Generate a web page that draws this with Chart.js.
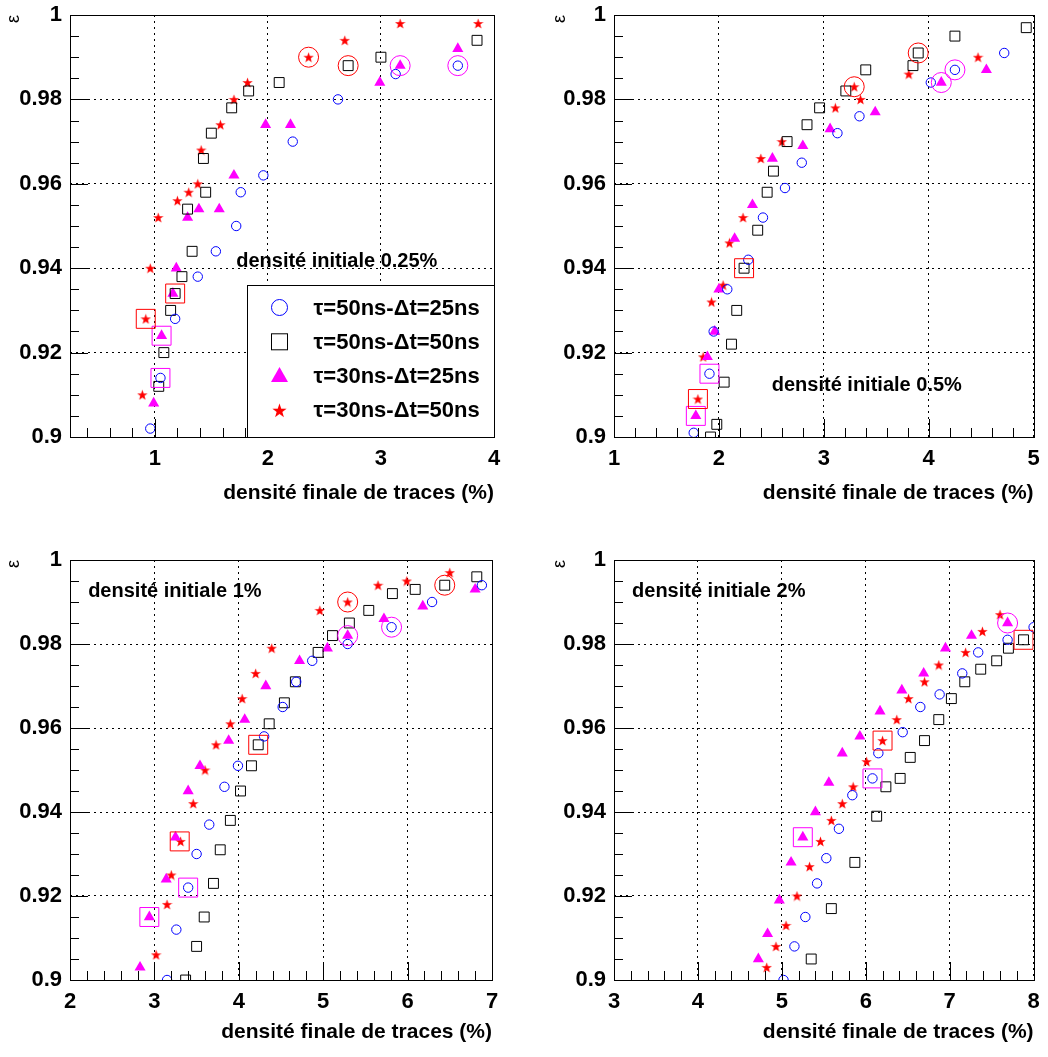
<!DOCTYPE html>
<html>
<head>
<meta charset="utf-8">
<script src="https://cdn.jsdelivr.net/npm/chart.js@4.4.0/dist/chart.umd.min.js"></script>
<style>
  html, body { margin: 0; padding: 0; background: #fff; }
  #page { position: relative; width: 1048px; height: 1057px; overflow: hidden; }
  .panel { position: absolute; }
</style>
</head>
<body>
<div id="page">
  <div class="panel" style="left:0;top:0"><canvas id="c1" width="524" height="528"></canvas></div>
  <div class="panel" style="left:524px;top:0"><canvas id="c2" width="524" height="528"></canvas></div>
  <div class="panel" style="left:0;top:528px"><canvas id="c3" width="524" height="529"></canvas></div>
  <div class="panel" style="left:524px;top:528px"><canvas id="c4" width="524" height="529"></canvas></div>
</div>
<script>
// Series labels (legend of the first panel)
const seriesLabels = ['τ=50ns-Δt=25ns', 'τ=50ns-Δt=50ns', 'τ=30ns-Δt=25ns', 'τ=30ns-Δt=50ns'];

// Shared axis values
const yTicks = [0.9, 0.92, 0.94, 0.96, 0.98, 1];

// Panel 1 : densité initiale 0.25%
const p1XTicks = [1, 2, 3, 4];
const p1Circles = [[0.96,0.902],[1.05,0.914],[1.18,0.928],[1.38,0.938],[1.54,0.944],[1.72,0.950],[1.76,0.958],[1.96,0.962],[2.22,0.970],[2.62,0.980],[3.13,0.986],[3.68,0.988]];
const p1Squares = [[1.035,0.912],[1.08,0.920],[1.14,0.930],[1.18,0.934],[1.24,0.938],[1.33,0.944],[1.29,0.954],[1.45,0.958],[1.43,0.966],[1.50,0.972],[1.68,0.978],[1.83,0.982],[2.10,0.984],[2.71,0.988],[3.00,0.990],[3.85,0.994]];
const p1Triangles = [[0.99,0.908],[1.06,0.924],[1.16,0.934],[1.19,0.940],[1.29,0.952],[1.39,0.954],[1.57,0.954],[1.70,0.962],[1.98,0.974],[2.20,0.974],[2.99,0.984],[3.17,0.988],[3.68,0.992]];
const p1Stars = [[0.89,0.910],[0.92,0.928],[0.96,0.940],[1.03,0.952],[1.20,0.956],[1.30,0.958],[1.38,0.960],[1.41,0.968],[1.58,0.974],[1.70,0.980],[1.82,0.984],[2.36,0.990],[2.68,0.994],[3.17,0.998],[3.86,0.998]];
const p1RedRings = [[2.36,0.990],[2.71,0.988]];
const p1PinkRings = [[3.17,0.988],[3.68,0.988]];
const p1RedBoxes = [[0.92,0.928],[1.18,0.934]];
const p1PinkBoxes = [[1.06,0.924],[1.05,0.914]];

// Panel 2 : densité initiale 0.5%
const p2XTicks = [1, 2, 3, 4, 5];
const p2Circles = [[1.76,0.901],[1.91,0.915],[1.95,0.925],[2.08,0.935],[2.28,0.942],[2.42,0.952],[2.63,0.959],[2.79,0.965],[3.13,0.972],[3.34,0.976],[4.02,0.984],[4.25,0.987],[4.72,0.991]];
const p2Squares = [[1.92,0.900],[1.98,0.903],[2.05,0.913],[2.12,0.922],[2.17,0.930],[2.24,0.940],[2.37,0.949],[2.46,0.958],[2.52,0.963],[2.65,0.970],[2.84,0.974],[2.96,0.978],[3.21,0.982],[3.40,0.987],[3.85,0.988],[3.90,0.991],[4.25,0.995],[4.93,0.997]];
const p2Triangles = [[1.78,0.905],[1.89,0.919],[1.96,0.925],[2.00,0.935],[2.15,0.947],[2.32,0.955],[2.51,0.966],[2.80,0.969],[3.06,0.973],[3.49,0.977],[4.12,0.984],[4.55,0.987]];
const p2Stars = [[1.80,0.909],[1.85,0.919],[1.93,0.932],[2.04,0.936],[2.10,0.946],[2.23,0.952],[2.40,0.966],[2.60,0.970],[3.11,0.978],[3.35,0.980],[3.29,0.983],[3.81,0.986],[4.47,0.990]];
const p2RedRings = [[3.29,0.983],[3.90,0.991]];
const p2PinkRings = [[4.12,0.984],[4.25,0.987]];
const p2RedBoxes = [[2.24,0.940],[1.80,0.909]];
const p2PinkBoxes = [[1.91,0.915],[1.78,0.905]];

// Panel 3 : densité initiale 1%
const p3XTicks = [2, 3, 4, 5, 6, 7];
const p3Circles = [[3.15,0.900],[3.26,0.912],[3.40,0.922],[3.50,0.930],[3.65,0.937],[3.83,0.946],[3.99,0.951],[4.30,0.958],[4.52,0.965],[4.68,0.971],[4.87,0.976],[5.29,0.980],[5.81,0.984],[6.29,0.990],[6.88,0.994]];
const p3Squares = [[3.37,0.900],[3.50,0.908],[3.59,0.915],[3.70,0.923],[3.78,0.931],[3.90,0.938],[4.02,0.945],[4.15,0.951],[4.23,0.956],[4.36,0.961],[4.54,0.966],[4.67,0.971],[4.94,0.978],[5.11,0.982],[5.31,0.985],[5.54,0.988],[5.82,0.992],[6.09,0.993],[6.44,0.994],[6.82,0.996]];
const p3Triangles = [[2.83,0.903],[2.94,0.915],[3.14,0.924],[3.25,0.934],[3.40,0.945],[3.54,0.951],[3.88,0.957],[4.07,0.962],[4.32,0.970],[4.72,0.976],[5.05,0.979],[5.29,0.982],[5.72,0.986],[6.18,0.989],[6.80,0.993]];
const p3Stars = [[3.02,0.906],[3.15,0.918],[3.20,0.925],[3.31,0.933],[3.46,0.942],[3.60,0.950],[3.73,0.956],[3.90,0.961],[4.04,0.967],[4.20,0.973],[4.39,0.979],[4.96,0.988],[5.29,0.990],[5.65,0.994],[5.99,0.995],[6.50,0.997]];
const p3RedRings = [[5.29,0.990],[6.44,0.994]];
const p3PinkRings = [[5.29,0.982],[5.81,0.984]];
const p3RedBoxes = [[4.23,0.956],[3.30,0.933]];
const p3PinkBoxes = [[3.40,0.922],[2.94,0.915]];

// Panel 4 : densité initiale 2%
const p4XTicks = [3, 4, 5, 6, 7, 8];
const p4Circles = [[5.02,0.900],[5.15,0.908],[5.28,0.915],[5.42,0.923],[5.53,0.929],[5.68,0.936],[5.84,0.944],[6.08,0.948],[6.15,0.954],[6.44,0.959],[6.65,0.965],[6.88,0.968],[7.15,0.973],[7.34,0.978],[7.69,0.981],[8.00,0.984]];
const p4Squares = [[5.35,0.905],[5.59,0.917],[5.87,0.928],[6.13,0.939],[6.24,0.946],[6.41,0.948],[6.53,0.953],[6.70,0.957],[6.87,0.962],[7.02,0.967],[7.18,0.971],[7.37,0.974],[7.56,0.976],[7.70,0.979],[7.88,0.981]];
const p4Triangles = [[4.72,0.905],[4.83,0.911],[4.97,0.919],[5.11,0.928],[5.25,0.934],[5.40,0.940],[5.56,0.947],[5.72,0.954],[5.93,0.958],[6.17,0.964],[6.43,0.969],[6.69,0.973],[6.95,0.979],[7.26,0.982],[7.69,0.985]];
const p4Stars = [[4.82,0.903],[4.93,0.908],[5.05,0.913],[5.18,0.920],[5.33,0.927],[5.46,0.933],[5.59,0.938],[5.72,0.942],[5.85,0.946],[6.01,0.952],[6.20,0.957],[6.37,0.962],[6.51,0.967],[6.70,0.971],[6.87,0.975],[7.19,0.978],[7.39,0.983],[7.60,0.987]];
const p4RedRings = [];
const p4PinkRings = [[7.69,0.985]];
const p4RedBoxes = [[6.20,0.957],[7.88,0.981]];
const p4PinkBoxes = [[6.08,0.948],[5.25,0.934]];

const BLUE = '#0000ff', BLACK = '#000000', PINK = '#ff00ff', RED = '#ff0000';
const FONT = 'Liberation Sans, Arial, Helvetica, sans-serif';

// filled five-point star, used as a point style image
function makeStar(size, color) {
    const c = document.createElement('canvas');
    c.width = c.height = size;
    const g = c.getContext('2d');
    const R = size / 2, r = R * 0.4, cx = size / 2, cy = size / 2 + R * 0.08;
    g.beginPath();
    for (let i = 0; i < 10; i++) {
        const rad = i % 2 ? r : R;
        const a = -Math.PI / 2 + i * Math.PI / 5;
        g.lineTo(cx + rad * Math.cos(a), cy + rad * Math.sin(a));
    }
    g.closePath();
    g.fillStyle = color;
    g.fill();
    return c;
}
const starSmall = makeStar(11, RED);
const starBig = makeStar(15, RED);

// draws a legend marker
function drawMarker(ctx, kind, x, y) {
    ctx.save();
    ctx.lineWidth = 1;
    if (kind === 0) {
        ctx.strokeStyle = BLUE;
        ctx.beginPath(); ctx.arc(x, y, 8, 0, Math.PI * 2); ctx.stroke();
    } else if (kind === 1) {
        ctx.strokeStyle = BLACK;
        ctx.strokeRect(x - 8, y - 8, 16, 16);
    } else if (kind === 2) {
        ctx.fillStyle = PINK;
        ctx.beginPath(); ctx.moveTo(x, y - 9); ctx.lineTo(x + 8.5, y + 6); ctx.lineTo(x - 8.5, y + 6); ctx.closePath(); ctx.fill();
    } else {
        ctx.drawImage(starBig, x - starBig.width / 2, y - starBig.height / 2);
    }
    ctx.restore();
}

// ROOT-like frame: inward ticks, box, annotation and legend
const rootFrame = {
    id: 'rootFrame',
    afterDatasetsDraw(chart, args, opts) {
        const { ctx, chartArea: a, scales } = chart;
        ctx.save();
        ctx.strokeStyle = '#000';
        ctx.lineWidth = 1;
        ctx.setLineDash([]);
        ['x', 'y'].forEach(id => {
            const s = scales[id];
            const step = opts[id + 'Minor'];
            const majors = s.ticks.map(t => t.value);
            const first = Math.ceil(s.min / step - 1e-6);
            const last = Math.floor(s.max / step + 1e-6);
            for (let k = first; k <= last; k++) {
                const v = k * step;
                const major = majors.some(m => Math.abs(m - v) < step / 10);
                const len = major ? 18 : 9;
                const p = Math.round(s.getPixelForValue(v)) + 0.5;
                ctx.beginPath();
                if (id === 'x') { ctx.moveTo(p, a.bottom); ctx.lineTo(p, a.bottom - len); }
                else { ctx.moveTo(a.left, p); ctx.lineTo(a.left + len, p); }
                ctx.stroke();
            }
        });
        ctx.strokeRect(Math.round(a.left) + 0.5, Math.round(a.top) + 0.5, Math.round(a.right - a.left), Math.round(a.bottom - a.top));

        // density annotation
        ctx.fillStyle = '#000';
        ctx.font = 'bold 20px ' + FONT;
        ctx.textAlign = 'left';
        ctx.textBaseline = 'middle';
        ctx.fillText(opts.note, a.left + opts.noteX * (a.right - a.left), a.top + opts.noteY * (a.bottom - a.top));

        // legend box
        if (opts.legend) {
            const bx = Math.round(a.left + 0.417 * (a.right - a.left)) + 0.5;
            const by = Math.round(a.top + 0.64 * (a.bottom - a.top)) + 0.5;
            const bw = Math.round(a.right) + 0.5 - bx, bh = Math.round(a.bottom) + 0.5 - by;
            ctx.fillStyle = '#fff';
            ctx.fillRect(bx, by, bw, bh);
            ctx.strokeRect(bx, by, bw, bh);
            ctx.font = 'bold 22px ' + FONT;
            ctx.fillStyle = '#000';
            seriesLabels.forEach((lab, i) => {
                const ry = by + 22 + i * 34.3;
                drawMarker(ctx, i, bx + 32, ry);
                ctx.fillText(lab, bx + 66, ry + 1);
            });
        }
        ctx.restore();
    }
};

function buildPanel(canvasId, p) {
    const pts = arr => arr.map(([x, y]) => ({ x, y }));
    const tickFont = { family: FONT, size: 22, weight: 'bold' };
    const ring = (data, color) => ({ data: pts(data), pointStyle: 'circle', pointRadius: 10, pointBorderColor: color, pointBackgroundColor: 'transparent', pointBorderWidth: 1, clip: 0 });
    const box = (data, color) => ({ data: pts(data), pointStyle: 'rect', pointRadius: 13.4, pointBorderColor: color, pointBackgroundColor: 'transparent', pointBorderWidth: 1, clip: 0 });

    new Chart(document.getElementById(canvasId), {
        type: 'scatter',
        data: {
            datasets: [
                ring(p.redRings, RED),
                ring(p.pinkRings, PINK),
                box(p.redBoxes, RED),
                box(p.pinkBoxes, PINK),
                { label: seriesLabels[0], data: pts(p.circles), pointStyle: 'circle', pointRadius: 4.7, pointBorderColor: BLUE, pointBackgroundColor: 'transparent', pointBorderWidth: 1, clip: 0 },
                { label: seriesLabels[1], data: pts(p.squares), pointStyle: 'rect', pointRadius: 7, pointBorderColor: BLACK, pointBackgroundColor: 'transparent', pointBorderWidth: 1, clip: 0 },
                { label: seriesLabels[2], data: pts(p.triangles), pointStyle: 'triangle', pointRadius: 6.4, pointBorderColor: PINK, pointBackgroundColor: PINK, pointBorderWidth: 0, clip: 0 },
                { label: seriesLabels[3], data: pts(p.stars), pointStyle: starSmall, pointRadius: 5, clip: 0 }
            ]
        },
        options: {
            responsive: false,
            animation: false,
            events: [],
            devicePixelRatio: 1,
            layout: { padding: { left: 0, top: p.padTop, right: p.padRight, bottom: 0 } },
            plugins: {
                legend: { display: false },
                tooltip: { enabled: false },
                rootFrame: { xMinor: 0.2, yMinor: 0.005, note: p.note, noteX: p.noteX, noteY: p.noteY, legend: p.legend }
            },
            scales: {
                x: {
                    type: 'linear',
                    min: p.xMin,
                    max: p.xMax,
                    afterBuildTicks: s => { s.ticks = p.xTicks.map(v => ({ value: v })); },
                    afterFit: s => { s.height = p.xHeight; s.paddingLeft = 0; s.paddingRight = 0; },
                    ticks: { font: tickFont, color: '#000', padding: 9, maxRotation: 0, autoSkip: false, callback: v => String(v) },
                    grid: { drawTicks: false, color: '#000', lineWidth: 1 },
                    border: { display: false, dash: [2, 4] },
                    title: { display: true, text: 'densité finale de traces (%)', align: 'end', color: '#000',
                             font: { family: FONT, size: 21, weight: 'bold' }, padding: { top: 0, bottom: p.xTitlePad } }
                },
                y: {
                    type: 'linear',
                    min: 0.9,
                    max: 1,
                    afterBuildTicks: s => { s.ticks = yTicks.map(v => ({ value: v })); },
                    afterFit: s => { s.width = p.yWidth; s.paddingTop = 0; s.paddingBottom = 0; },
                    ticks: { font: tickFont, color: '#000', padding: 8, autoSkip: false, callback: v => String(v) },
                    grid: { drawTicks: false, color: '#000', lineWidth: 1 },
                    border: { display: false, dash: [2, 4] },
                    title: { display: true, text: 'ε', align: 'end', color: '#000',
                             font: { family: FONT, size: 18 }, padding: { top: p.yTitlePad, bottom: 0 } }
                }
            }
        },
        plugins: [rootFrame]
    });
}

buildPanel('c1', {
    circles: p1Circles, squares: p1Squares, triangles: p1Triangles, stars: p1Stars,
    redRings: p1RedRings, pinkRings: p1PinkRings, redBoxes: p1RedBoxes, pinkBoxes: p1PinkBoxes,
    xTicks: p1XTicks, xMin: 0.25, xMax: 4,
    padTop: 15, padRight: 30, xHeight: 91, yWidth: 70, xTitlePad: 22, yTitlePad: 3,
    note: 'densité initiale 0.25%', noteX: 0.392, noteY: 0.585, legend: true
});
buildPanel('c2', {
    circles: p2Circles, squares: p2Squares, triangles: p2Triangles, stars: p2Stars,
    redRings: p2RedRings, pinkRings: p2PinkRings, redBoxes: p2RedBoxes, pinkBoxes: p2PinkBoxes,
    xTicks: p2XTicks, xMin: 1, xMax: 5,
    padTop: 15, padRight: 11, xHeight: 91, yWidth: 90, xTitlePad: 22, yTitlePad: 25,
    note: 'densité initiale 0.5%', noteX: 0.376, noteY: 0.879, legend: false
});
buildPanel('c3', {
    circles: p3Circles, squares: p3Squares, triangles: p3Triangles, stars: p3Stars,
    redRings: p3RedRings, pinkRings: p3PinkRings, redBoxes: p3RedBoxes, pinkBoxes: p3PinkBoxes,
    xTicks: p3XTicks, xMin: 2, xMax: 7,
    padTop: 32, padRight: 32, xHeight: 77, yWidth: 70, xTitlePad: 12, yTitlePad: 3,
    note: 'densité initiale 1%', noteX: 0.043, noteY: 0.076, legend: false
});
buildPanel('c4', {
    circles: p4Circles, squares: p4Squares, triangles: p4Triangles, stars: p4Stars,
    redRings: p4RedRings, pinkRings: p4PinkRings, redBoxes: p4RedBoxes, pinkBoxes: p4PinkBoxes,
    xTicks: p4XTicks, xMin: 3, xMax: 8,
    padTop: 32, padRight: 11, xHeight: 77, yWidth: 90, xTitlePad: 12, yTitlePad: 25,
    note: 'densité initiale 2%', noteX: 0.043, noteY: 0.076, legend: false
});
</script>
</body>
</html>
